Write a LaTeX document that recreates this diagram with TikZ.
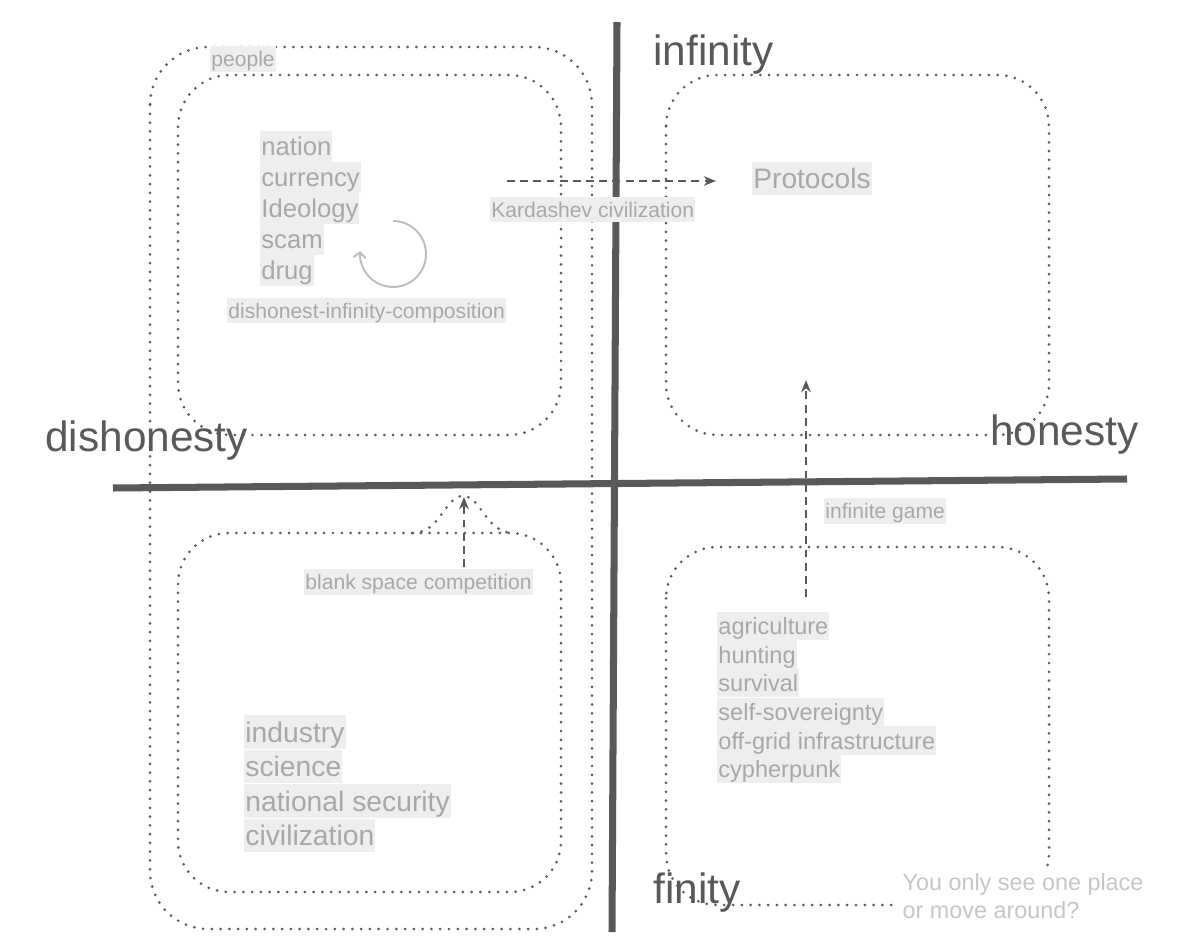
\documentclass[tikz,border=0pt]{standalone}
\usepackage{fontspec}
\setmainfont{Liberation Sans}
\usepackage{xcolor}
\usetikzlibrary{positioning,arrows.meta}
\definecolor{axisgray}{HTML}{595959}
\definecolor{dotgray}{HTML}{5C5C5C}
\definecolor{tagfill}{HTML}{EEEEEE}
\definecolor{taggray}{HTML}{A8A8A8}
\definecolor{cyclegray}{HTML}{BDBDBD}
\definecolor{notegray}{HTML}{C6C6C6}

\begin{document}
\begin{tikzpicture}[x=0.02cm,y=-0.02cm,
    axisline/.style={axisgray,line width=4pt},
    axislabel/.style={axisgray,inner sep=0pt,anchor=base west,font=\fontsize{24.1}{29}\selectfont},
    region/.style={dotgray,line width=1.7pt,dash pattern=on 0pt off 5pt,line cap=round},
    tag/.style={fill=tagfill,text=taggray,inner xsep=0.6pt,inner ysep=0pt,anchor=west,
      font=\fontsize{#1}{#1}\selectfont,text height={0.97*#1pt},text depth={0.23*#1pt}},
    flow/.style={axisgray,line width=1.1pt,dash pattern=on 4.5pt off 3pt,-{Stealth[length=7pt,width=5.5pt]}}]
    \useasboundingbox (0,0) rectangle (1189,945);
    % regions
    \draw[region,rounded corners=1.16cm] (150,47) rectangle (592,929);
    \draw[region,rounded corners=1.04cm] (178,75) rectangle (561,435);
    \draw[region,rounded corners=1.02cm] (178,533) rectangle (561,892);
    \draw[region] (413,533) .. controls (440,533) and (445,496) .. (463,496)
      .. controls (481,496) and (486,533) .. (513,533);
    \draw[region,rounded corners=1.03cm] (666,75) rectangle (1049,435);
    \draw[region,rounded corners=1.03cm] (666,547) rectangle (1049,905);
    % axes
    \draw[axisline] (113,488) -- (1127,479);
    \draw[axisline] (617,22) -- (612,932);
    % lists
    \foreach \word [count=\i] in {nation,currency,Ideology,scam,drug}
      \node[tag=14.6] (dis\i) at (260,{146.5+31*(\i-1)}) {\word};
    \foreach \word [count=\i] in {industry,science,national security,civilization}
      \node[tag=16.1] (ind\i) at (244,{732+34.5*(\i-1)}) {\word};
    \foreach \word [count=\i] in {agriculture,hunting,survival,self-sovereignty,off-grid infrastructure,cypherpunk}
      \node[tag=13.4] (fin\i) at (717,{626+28.6*(\i-1)}) {\word};
    \node[tag=16] (protocols) at (752,178.5) {Protocols};
    \node[tag=12] (people) at (210,59) {people};
    \node[tag=12] (composition) at (227,310.5) {dishonest-infinity-composition};
    % arrows
    \coordinate (kard-from) at (507,181);
    \draw[flow,shorten >=0.72cm] (kard-from) -- (protocols.west |- kard-from);
    \coordinate (game-from) at (806,597);
    \coordinate (game-to) at (806,380);
    \draw[flow] (game-from) -- (game-to);
    \coordinate (blank-from) at (464,567);
    \coordinate (blank-to) at (464,497);
    \draw[flow] (blank-from) -- (blank-to);
    \draw[cyclegray,line width=1.1pt,-{Straight Barb[length=3pt,width=7pt]}]
      (393,221) arc[start angle=-90,end angle=185,radius=33];
    \node[tag=12] (kardashev) at (490,209.5) {Kardashev civilization};
    \node[tag=12] (blank) at (304,582) {blank space competition};
    \node[tag=12] (game) at (824,511) {infinite game};
    % axis labels
    \node[axislabel] (infinity) at (653,66) {infinity};
    \node[axislabel] (finity) at (653,903) {finity};
    \node[axislabel] (dishonesty) at (45,451) {dishonesty};
    \node[axislabel] (honesty) at (990,445) {honesty};
    \node[anchor=north west,fill=white,text=notegray,align=left,inner sep=3pt,
      font=\fontsize{13.3}{15.9}\selectfont] (question) at (897,868)
      {You only see one place\\or move around?};
  \end{tikzpicture}
\end{document}
